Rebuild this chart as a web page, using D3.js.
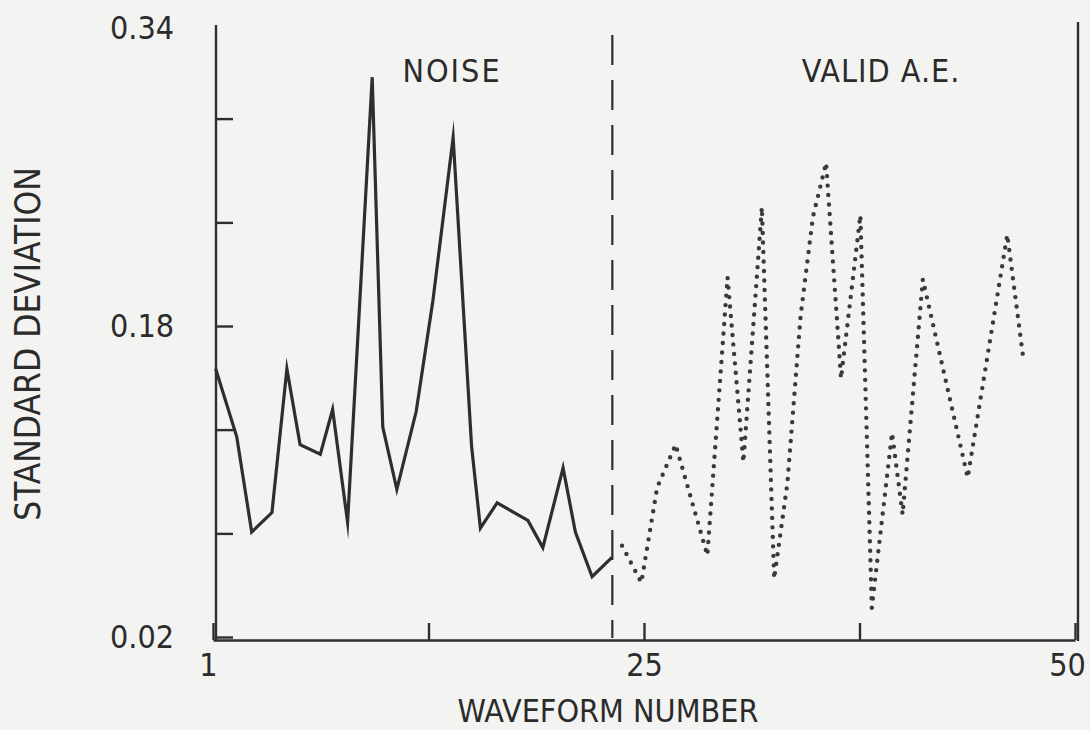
<!DOCTYPE html>
<html>
<head>
<script src="https://cdnjs.cloudflare.com/ajax/libs/d3/7.8.5/d3.min.js"></script>
<title>Standard deviation vs waveform number</title>
<style>
body { margin:0; background:#f3f3f1; }
text { font-family: "Liberation Sans Narrow", "DejaVu Sans Condensed", sans-serif; fill:#2b2b2b; }
</style>
</head>
<body>
<div id="chart"></div>
<script>
// waveform numbers and std. deviation
var noiseWave = [1.15, 2.35, 3.2, 4.35, 5.2, 5.95, 7.1, 7.8, 8.65, 10.05, 10.65, 11.45, 12.55, 13.5, 14.65, 15.7, 16.2, 17.15, 18.9, 19.75, 20.9, 21.6, 22.55, 23.68];
var noiseStd  = [0.158, 0.123, 0.074, 0.084, 0.158, 0.119, 0.114, 0.137, 0.079, 0.308, 0.128, 0.096, 0.136, 0.193, 0.277, 0.118, 0.076, 0.089, 0.080, 0.066, 0.107, 0.074, 0.051, 0.061];

var validWave = [24.25, 25.35, 26.25, 27.3, 29.1, 30.25, 31.15, 32.2, 32.9, 33.65, 34.4, 35.1, 35.85, 36.7, 37.8, 38.45, 39.6, 40.2, 41.35, 43.9, 46.15, 47.05];
var validStd  = [0.067, 0.048, 0.097, 0.119, 0.062, 0.205, 0.110, 0.241, 0.050, 0.099, 0.185, 0.236, 0.264, 0.153, 0.237, 0.035, 0.125, 0.083, 0.204, 0.102, 0.227, 0.164];

var yTicks  = [0.02, 0.0733, 0.1267, 0.18, 0.2333, 0.2867, 0.34];
var yLabels = ["0.02", "", "", "0.18", "", "", "0.34"];
var xTicks  = [1, 13.25, 25.5, 37.75, 50];
var xLabels = ["1", "", "25", "", "50"];
var divider = 23.7;

(function() {

var w = 1090, h = 730;
var ink = "#2e2e2e";

var svg = d3.select("#chart").append("svg")
    .attr("width", w).attr("height", h);

svg.append("rect").attr("width", w).attr("height", h).attr("fill", "#f3f3f1");

var x = d3.scaleLinear().domain([1, 50]).range([213, 1075]);
var y = d3.scaleLinear().domain([0.02, 0.34]).range([637, 15]);

// x axis
var gx = svg.append("g")
    .attr("transform", "translate(0,640)")
    .call(d3.axisBottom(x).tickValues(xTicks)
        .tickSizeInner(-17).tickSizeOuter(0).tickPadding(13)
        .tickFormat(function(d, i) { return xLabels[i]; }));
gx.selectAll(".tick text").filter(function(d) { return d === 1; }).attr("dx", -5);
gx.selectAll(".tick text").filter(function(d) { return d === 50; }).attr("dx", -8);

// y axis
var gy = svg.append("g")
    .attr("transform", "translate(216,0)")
    .call(d3.axisLeft(y).tickValues(yTicks)
        .tickSizeInner(-17).tickSizeOuter(0).tickPadding(42)
        .tickFormat(function(d, i) { return yLabels[i]; }));
gy.select(".domain").remove();
gy.append("line").attr("x1", 0).attr("x2", 0).attr("y1", 25).attr("y2", 640);
// top of the axis: no tick, label sits a little lower
var topTick = gy.selectAll(".tick").filter(function(d) { return d === 0.34; });
topTick.select("line").remove();
topTick.select("text").attr("y", 13);

[gx, gy].forEach(function(g) {
  g.selectAll("path, line").attr("stroke", ink).attr("stroke-width", 2.4);
  g.selectAll("text").attr("font-size", 32).attr("fill", "#2b2b2b")
     .style("font-family", '"Liberation Sans Narrow", "DejaVu Sans Condensed", sans-serif');
});

// right frame
svg.append("line")
    .attr("x1", x(50) + 3).attr("x2", x(50) + 3)
    .attr("y1", 22).attr("y2", 641)
    .attr("stroke", ink).attr("stroke-width", 2.4);

// divider between noise and valid A.E.
svg.append("line")
    .attr("x1", x(divider)).attr("x2", x(divider))
    .attr("y1", 35).attr("y2", 638)
    .attr("stroke", ink).attr("stroke-width", 2.2)
    .attr("stroke-dasharray", "30 15");

var line = d3.line()
    .x(function(d) { return x(d[0]); })
    .y(function(d) { return y(d[1]); });

var noise = noiseWave.map(function(d, i) { return [d, noiseStd[i]]; });
var valid = validWave.map(function(d, i) { return [d, validStd[i]]; });

svg.append("path")
    .attr("d", line(noise))
    .attr("fill", "none").attr("stroke", ink)
    .attr("stroke-width", 3.2).attr("stroke-linejoin", "miter").attr("stroke-miterlimit", 12);

svg.append("path")
    .attr("d", line(valid))
    .attr("fill", "none").attr("stroke", "#3a3a3a")
    .attr("stroke-width", 4.4).attr("stroke-linecap", "round")
    .attr("stroke-dasharray", "0 9.5");

// region labels
svg.append("text").attr("x", 452).attr("y", 82)
    .attr("text-anchor", "middle").attr("font-size", 32)
    .attr("letter-spacing", 2).text("NOISE");
svg.append("text").attr("x", 881).attr("y", 82)
    .attr("text-anchor", "middle").attr("font-size", 32)
    .attr("letter-spacing", 1).text("VALID A.E.");

// axis titles
svg.append("text").attr("x", 608).attr("y", 722)
    .attr("text-anchor", "middle").attr("font-size", 32)
    .text("WAVEFORM NUMBER");
svg.append("text")
    .attr("transform", "translate(40,344) rotate(-90)")
    .attr("text-anchor", "middle").attr("font-size", 35)
    .text("STANDARD DEVIATION");

})();
</script>
</body>
</html>
